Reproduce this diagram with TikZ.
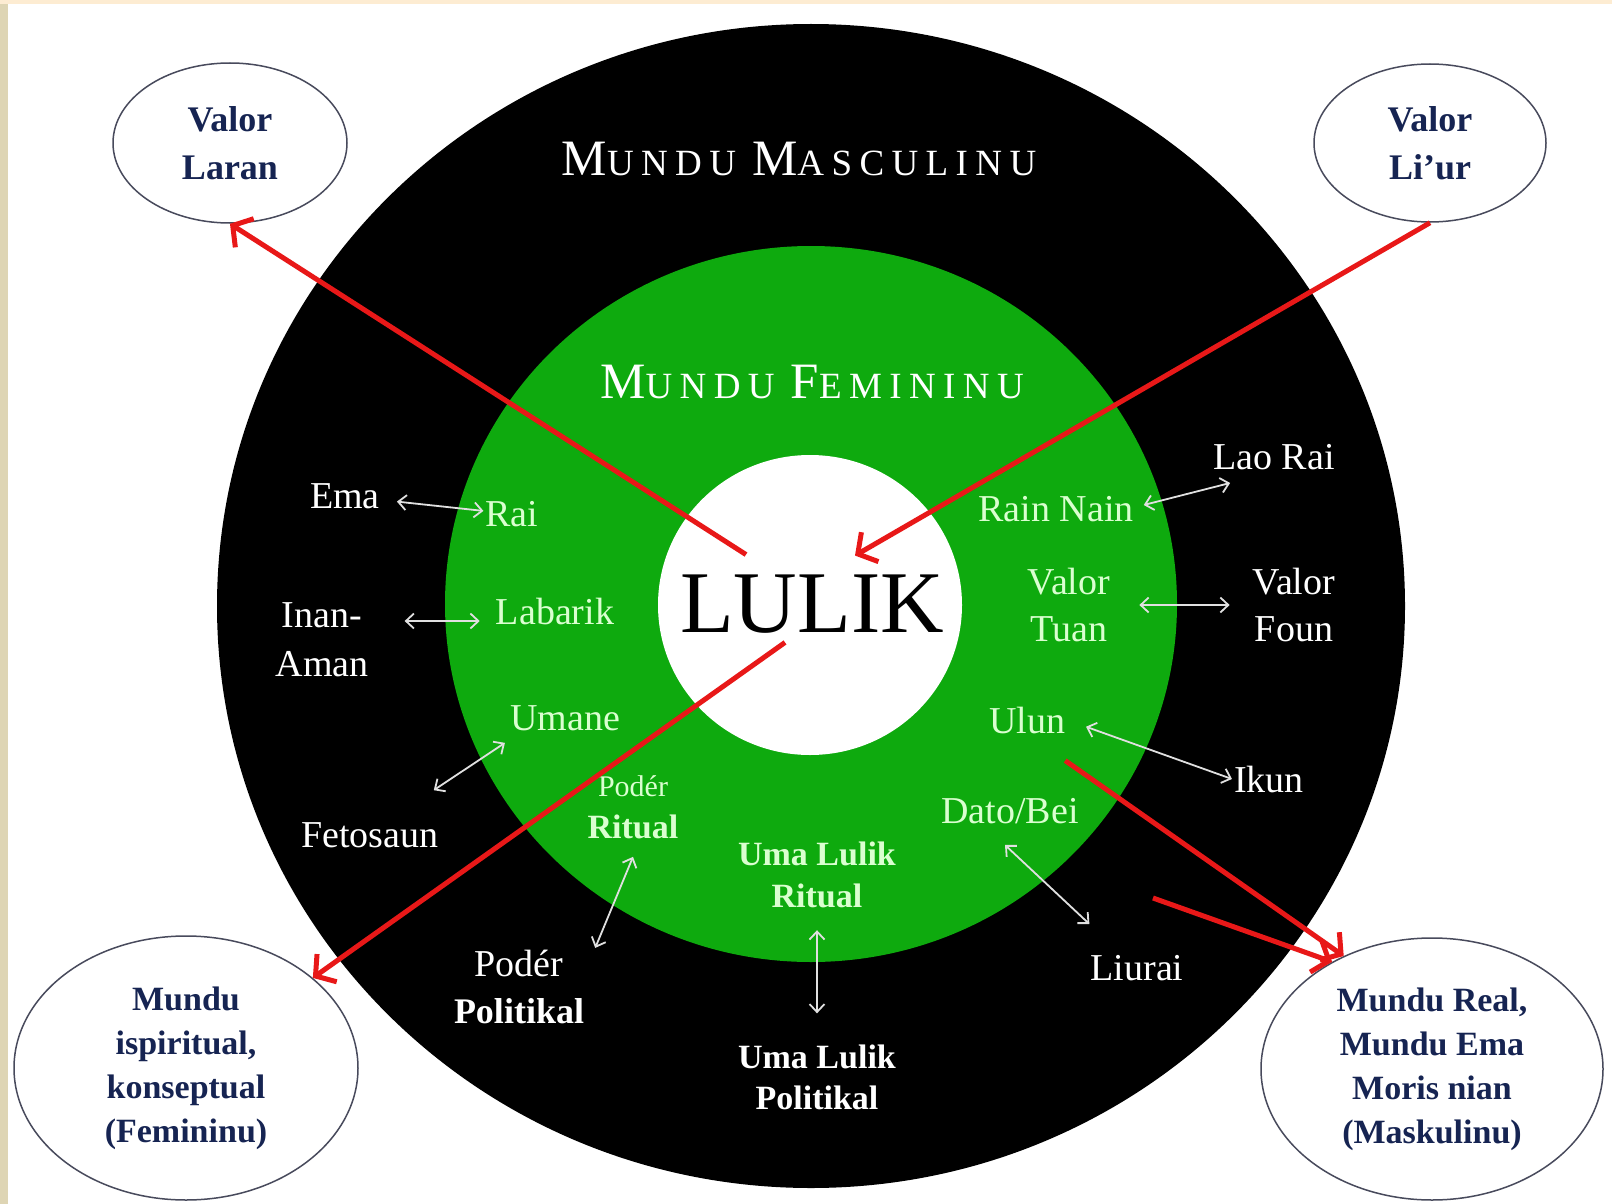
\documentclass[tikz,border=0pt]{standalone}
\usepackage{fontspec}
\setmainfont{Liberation Serif}
\newfontfamily\spacedfont[LetterSpace=20]{Liberation Serif}
\usetikzlibrary{shapes,arrows.meta,positioning}

\definecolor{ringgreen}{RGB}{14,170,14}
\definecolor{palegreen}{RGB}{218,255,208}
\definecolor{inknavy}{RGB}{22,36,82}
\definecolor{rimgray}{RGB}{72,74,92}
\definecolor{arrowred}{RGB}{232,24,24}
\definecolor{peach}{RGB}{253,236,210}
\definecolor{khaki}{RGB}{222,213,180}

\newcommand{\capsword}[2]{{\fontsize{51}{51}\selectfont #1}{\fontsize{37}{37}\selectfont #2}}

\tikzstyle{outlabel} = [text=white, font=\fontsize{38}{47}\selectfont, inner sep=2pt, align=center]
\tikzstyle{inlabel} = [outlabel, text=palegreen]
\tikzstyle{heading} = [text=white, font=\spacedfont, inner sep=0pt]
\tikzstyle{bubble} = [ellipse, draw=rimgray, line width=1.5pt, fill=white, text=inknavy,
align=center, inner sep=0pt, font=\bfseries\fontsize{34}{44}\selectfont]
\tikzstyle{link} = [draw=white!88!black, line width=1.8pt, >={Straight Barb[length=8pt,width=15pt]}, <->]
\tikzstyle{flow} = [draw=arrowred, line width=5pt, >={Straight Barb[length=14pt,width=34pt]}, ->]

\begin{document}
\begin{tikzpicture}[x=1pt, y=-1pt]

% Background and rings
\fill[peach] (0,0) rectangle (1612,1204);
\fill[khaki] (0,4) rectangle (8,1204);
\fill[white] (8,4) rectangle (1612,1204);
\useasboundingbox (0,0) rectangle (1612,1204);
\fill[black] (811,606) ellipse [x radius=594, y radius=582];
\fill[ringgreen] (811,604) ellipse [x radius=366, y radius=358];
\fill[white] (810,605) ellipse [x radius=152, y radius=150];

% Place nodes
\node [heading] (masc) at (799,159) {\capsword{M}{UNDU}\hspace{16pt}\capsword{M}{ASCULINU}};
\node [heading] (femi) at (812,382) {\capsword{M}{UNDU}\hspace{16pt}\capsword{F}{EMININU}};
\node [font=\fontsize{88}{88}\selectfont, inner sep=2pt] (lulik) at (812,604) {LULIK};

\node [bubble, minimum width=234pt, minimum height=160pt, font=\bfseries\fontsize{36}{48}\selectfont] (laran) at (230,143) {Valor\\Laran};
\node [bubble, minimum width=232pt, minimum height=158pt, font=\bfseries\fontsize{36}{48}\selectfont] (liur) at (1430,143) {Valor\\Li’ur};
\node [bubble, minimum width=344pt, minimum height=264pt] (ispir) at (186,1068) {Mundu\\ispiritual,\\konseptual\\(Femininu)};
\node [bubble, minimum width=342pt, minimum height=262pt] (real) at (1432,1069) {Mundu Real,\\Mundu Ema\\Moris nian\\(Maskulinu)};

\node [outlabel] (ema) at (345,496) {Ema};
\node [inlabel] (rai) at (512,514) {Rai};
\node [outlabel, font=\fontsize{38}{49}\selectfont] (inan) at (322,640) {Inan-\\Aman};
\node [inlabel] (labarik) at (555,611) {Labarik};
\node [inlabel] (umane) at (565,718) {Umane};
\node [outlabel] (fetosaun) at (370,835) {Fetosaun};
\node [inlabel, font=\fontsize{34}{42}\selectfont] (podrit) at (633,807) {{\fontsize{30}{42}\selectfont Podér}\\\textbf{Ritual}};
\node [outlabel, font=\fontsize{36}{47}\selectfont] (podpol) at (519,987) {{\fontsize{38}{47}\selectfont Podér}\\\textbf{Politikal}};
\node [inlabel, font=\bfseries\fontsize{34}{42}\selectfont] (umarit) at (817,875) {Uma Lulik\\Ritual};
\node [outlabel, font=\bfseries\fontsize{34}{41}\selectfont, below of=umarit, node distance=202pt] (umapol) {Uma Lulik\\Politikal};
\node [inlabel] (dato) at (1010,811) {Dato/Bei};
\node [outlabel] (liurai) at (1137,968) {Liurai};
\node [inlabel] (ulun) at (1027,720) {Ulun};
\node [outlabel] (ikun) at (1269,779) {Ikun};
\node [inlabel] (tuan) at (1069,605) {Valor\\Tuan};
\node [outlabel, right of=tuan, node distance=225pt] (foun) {Valor\\Foun};
\node [inlabel] (rain) at (1056,509) {Rain Nain};
\node [outlabel] (laorai) at (1274,457) {Lao Rai};
\coordinate (tail) at (1153,898);

% Draw edges
\path [link, shorten <=15pt] (ema) -- (rai);
\path [link] ([xshift=-14pt,yshift=-10pt]labarik.west) -- ([xshift=34pt,yshift=19pt]inan.east);
\path [link] ([xshift=-7pt,yshift=30pt]fetosaun.north east) -- ([xshift=-3pt,yshift=-10pt]umane.south west);
\path [link] ([yshift=-16pt]podrit.south) -- ([xshift=9pt]podpol.north east);
\path [link] ([yshift=-20pt]umarit.south) -- ([yshift=29pt]umapol.north);
\path [link] ([xshift=-5pt,yshift=-19pt]dato.south) -- ([xshift=1pt,yshift=29pt]liurai.north west);
\path [link, shorten <=20pt] (ulun.east) -- (ikun.west);
\path [link, shorten <=27pt, shorten >=21pt] (tuan) -- (foun);
\path [link] ([xshift=8pt,yshift=4pt]rain.east) -- ([xshift=19pt,yshift=-11pt]laorai.south west);

\path [flow] ([xshift=-66pt,yshift=18pt]lulik.north) -- (laran.south);
\path [flow] (liur.south) -- ([xshift=43pt,yshift=17pt]lulik.north);
\path [flow] ([xshift=-27pt,yshift=-7pt]lulik.south) -- (ispir);
\path [flow] ([xshift=-2pt,yshift=-25pt]ulun.south east) -- (real.128);
\path [flow] (tail) -- (real.133);
\end{tikzpicture}
\end{document}
